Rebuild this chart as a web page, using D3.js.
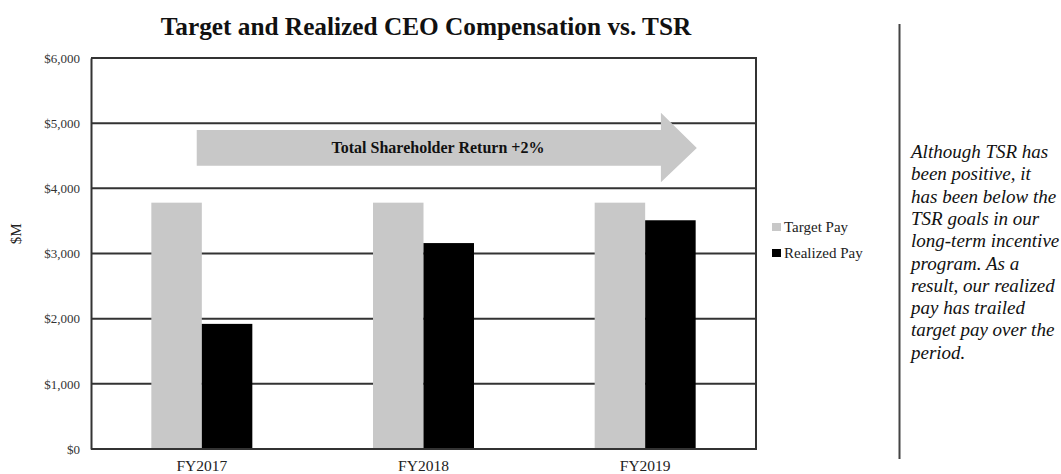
<!DOCTYPE html>
<html>
<head>
<meta charset="utf-8">
<script src="https://cdn.jsdelivr.net/npm/d3@7"></script>
<style>
  html, body { margin: 0; padding: 0; background: #fff; }
  svg { display: block; }
  text { font-family: "Liberation Serif", "Times New Roman", serif; }
</style>
</head>
<body>
<svg id="chart" width="1061" height="474"></svg>
<script>
const categories = ["FY2017", "FY2018", "FY2019"];
const seriesNames = ["Target Pay", "Realized Pay"];
const targetPay = [3780, 3780, 3780];
const realizedPay = [1920, 3160, 3510];
const yTicks = [0, 1000, 2000, 3000, 4000, 5000, 6000];
const titleText = "Target and Realized CEO Compensation vs. TSR";
const arrowLabel = "Total Shareholder Return +2%";
const yAxisLabel = "$M";
const noteLines = [
  "Although TSR has",
  "been positive, it",
  "has been below the",
  "TSR goals in our",
  "long-term incentive",
  "program. As a",
  "result, our realized",
  "pay has trailed",
  "target pay over the",
  "period."
];

const colors = { "Target Pay": "#c8c8c8", "Realized Pay": "#000000" };
const gridColor = "#333333";

const svg = d3.select("#chart");
const plot = { left: 91, right: 756, top: 58, bottom: 449 };

const y = d3.scaleLinear().domain([0, 6000]).range([plot.bottom, plot.top]);
const x0 = d3.scaleBand().domain(categories).range([plot.left, plot.right]).paddingInner(0).paddingOuter(0);
const x1 = d3.scaleBand().domain(seriesNames).range([0, x0.bandwidth()]).paddingInner(0).paddingOuter(1.195);

const data = categories.map((c, i) => ({
  cat: c,
  values: [
    { key: "Target Pay", value: targetPay[i] },
    { key: "Realized Pay", value: realizedPay[i] }
  ]
}));

// Title
svg.append("text")
  .attr("x", 426)
  .attr("y", 35)
  .attr("text-anchor", "middle")
  .attr("font-weight", "bold")
  .attr("font-size", 25.3)
  .attr("fill", "#111")
  .text(titleText);

// Grid lines (behind bars)
svg.append("g")
  .selectAll("line")
  .data(yTicks)
  .join("line")
  .attr("x1", plot.left)
  .attr("x2", plot.right)
  .attr("y1", d => y(d))
  .attr("y2", d => y(d))
  .attr("stroke", gridColor)
  .attr("stroke-width", 2);

// Right frame line
svg.append("line")
  .attr("x1", plot.right).attr("x2", plot.right)
  .attr("y1", y(6000) - 1).attr("y2", y(0) + 1)
  .attr("stroke", gridColor).attr("stroke-width", 2);

// Bars
const groups = svg.append("g")
  .selectAll("g")
  .data(data)
  .join("g")
  .attr("transform", d => `translate(${x0(d.cat)},0)`);

groups.selectAll("rect")
  .data(d => d.values)
  .join("rect")
  .attr("x", d => x1(d.key))
  .attr("width", x1.bandwidth())
  .attr("y", d => y(d.value))
  .attr("height", d => y(0) - y(d.value))
  .attr("fill", d => colors[d.key]);

// Bottom axis line on top of bars
svg.append("line")
  .attr("x1", plot.left).attr("x2", plot.right)
  .attr("y1", y(0)).attr("y2", y(0))
  .attr("stroke", gridColor).attr("stroke-width", 2);

// Left axis
const yAxis = d3.axisLeft(y)
  .tickValues(yTicks)
  .tickSize(0)
  .tickPadding(11)
  .tickFormat(d => "$" + d3.format(",")(d));
const gy = svg.append("g")
  .attr("transform", `translate(${plot.left},0)`)
  .call(yAxis);
gy.select(".domain").attr("stroke", gridColor).attr("stroke-width", 2);
gy.selectAll("text")
  .attr("font-size", 13)
  .attr("fill", "#333");

// Bottom axis labels
const xAxis = d3.axisBottom(x0).tickSize(0).tickPadding(11);
const gx = svg.append("g")
  .attr("transform", `translate(0,${plot.bottom})`)
  .call(xAxis);
gx.select(".domain").remove();
gx.selectAll("text")
  .attr("font-size", 15.5)
  .attr("fill", "#222");

// Y-axis title
svg.append("text")
  .attr("transform", `translate(21,${y(3300)}) rotate(-90)`)
  .attr("text-anchor", "middle")
  .attr("font-size", 15)
  .attr("fill", "#222")
  .text(yAxisLabel);

// TSR arrow annotation (placed with scales)
const aX0 = plot.left + (plot.right - plot.left) * 0.159;
const aXh = plot.left + (plot.right - plot.left) * 0.857;
const aXt = plot.left + (plot.right - plot.left) * 0.911;
const arrowPts = [
  [aX0, y(4895)], [aXh, y(4895)], [aXh, y(5160)], [aXt, y(4620)],
  [aXh, y(4095)], [aXh, y(4345)], [aX0, y(4345)]
];
svg.append("path")
  .attr("d", d3.line()(arrowPts) + "Z")
  .attr("fill", "#c8c8c8");

svg.append("text")
  .attr("x", 438)
  .attr("y", y(4620) + 5)
  .attr("text-anchor", "middle")
  .attr("font-weight", "bold")
  .attr("font-size", 16)
  .attr("fill", "#111")
  .text(arrowLabel);

// Legend
const legend = svg.append("g")
  .attr("transform", "translate(772,227)");
const li = legend.selectAll("g")
  .data(seriesNames)
  .join("g")
  .attr("transform", (d, i) => `translate(0,${i * 26})`);
li.append("rect")
  .attr("x", 0).attr("y", -4).attr("width", 9).attr("height", 8)
  .attr("fill", d => colors[d]);
li.append("text")
  .attr("x", 12).attr("y", 5)
  .attr("font-size", 15)
  .attr("fill", "#222")
  .text(d => d);

// Divider
svg.append("line")
  .attr("x1", 899.5).attr("x2", 899.5)
  .attr("y1", 24).attr("y2", 459)
  .attr("stroke", "#444").attr("stroke-width", 2);

// Note text
svg.append("g")
  .selectAll("text")
  .data(noteLines)
  .join("text")
  .attr("x", 911)
  .attr("y", (d, i) => 158 + i * 22.3)
  .attr("font-style", "italic")
  .attr("font-size", 19)
  .attr("fill", "#111")
  .text(d => d);
</script>
</body>
</html>
